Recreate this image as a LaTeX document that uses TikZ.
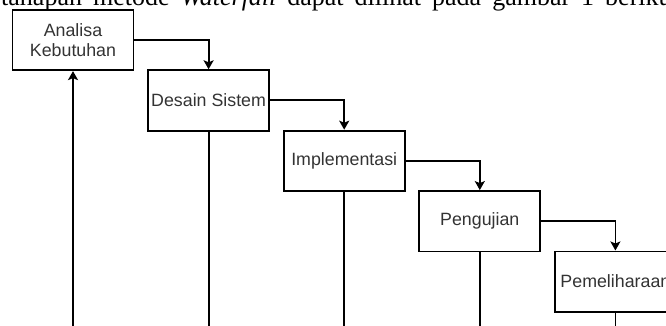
\documentclass[tikz,border=0pt]{standalone}
\usepackage{fontspec}
\setmainfont{Liberation Serif}
\newfontfamily\boxfont{Liberation Sans}
\usetikzlibrary{arrows.meta}
\definecolor{textgray}{HTML}{333333}
\begin{document}
\begin{tikzpicture}[x=1pt,y=-1pt,
  stage/.style={draw=black, line width=1.8pt, minimum width=121pt, minimum height=60.4pt,
    inner sep=0pt, align=center, text=textgray, font=\boxfont\fontsize{17.8}{20.5}\selectfont},
  flow/.style={draw=black, line width=1.8pt, -{Stealth[length=9pt,width=10pt,inset=2pt]}},
  drop/.style={draw=black, line width=1.8pt}]
\useasboundingbox (0,0) rectangle (666,326);
\clip (0,0) rectangle (666,326);
\node[anchor=base west, inner sep=0pt, font=\fontsize{26}{30}\selectfont] (intro) at (1,5.3)
  {\spaceskip=11pt tahapan metode \textit{Waterfall} dapat dilihat pada gambar 1 berikut:};
\coordinate (floor) at (0,332);
\node[stage] (b1) at (73,40) {Analisa\\Kebutuhan};
\node[stage] (b2) at (208.6,100.4) {Desain Sistem};
\node[stage] (b3) at (344.2,160.8) {Implementasi};
\node[stage] (b4) at (479.8,221.2) {Pengujian};
\node[stage] (b5) at (615.4,281.6) {Pemeliharaan};
\draw[flow] (b1.east) -| (b2.north);
\draw[flow] (b2.east) -| (b3.north);
\draw[flow] (b3.east) -| (b4.north);
\draw[flow] (b4.east) -| (b5.north);
\draw[flow] (b1.south |- floor) -- (b1.south);
\draw[drop] (b2.south) -- (b2.south |- floor);
\draw[drop] (b3.south) -- (b3.south |- floor);
\draw[drop] (b4.south) -- (b4.south |- floor);
\draw[drop] (b5.south) -- (b5.south |- floor);
\end{tikzpicture}
\end{document}
